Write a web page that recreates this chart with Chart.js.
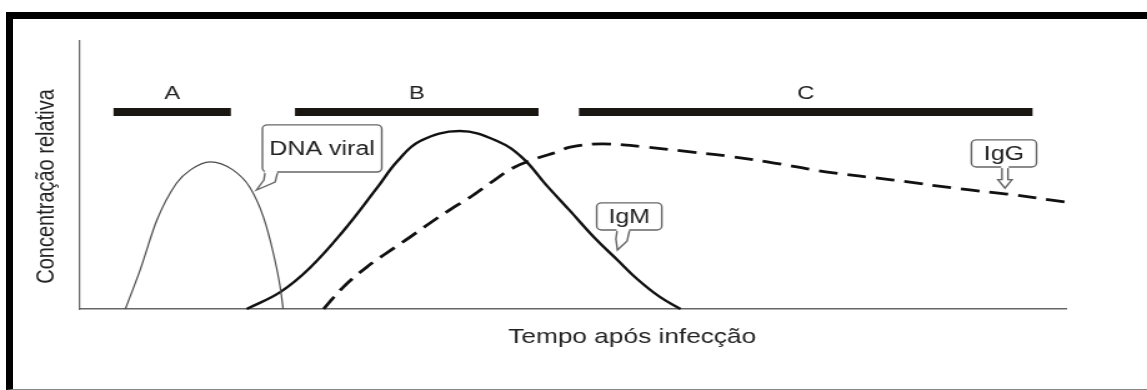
<!DOCTYPE html>
<html>
<head>
<meta charset="utf-8">
<script src="https://cdn.jsdelivr.net/npm/chart.js@4"></script>
<style>
  html, body { margin: 0; padding: 0; background: #fff; overflow: hidden; }
  #wrap { position: relative; width: 1147px; height: 390px; }
  /* the original figure is stretched sideways, so the canvas is too */
  #graph { position: absolute; left: 0; top: 0; transform: scaleX(1.2495); transform-origin: 0 0; }
  #frame { position: absolute; left: 6px; top: 12px; right: 0; bottom: 0;
           border-top: 7px solid #000; border-left: 7px solid #000; border-bottom: 1px solid #888;
           pointer-events: none; }
</style>
</head>
<body>
<div id="wrap">
  <canvas id="graph" width="918" height="390"></canvas>
  <div id="frame"></div>
</div>
<script>
// time after infection (0-100) and relative concentration (0-100)
const dnaTime = [4.6, 6.1, 7.8, 9.8, 11.2, 13.2, 15.5, 17.2, 18.6, 19.6, 20.3, 20.6];
const dnaConc = [0, 14.6, 33.2, 47.0, 51.9, 54.9, 51.9, 45.5, 34.3, 20.9, 8.2, 0];

const igmTime = [16.9, 20.3, 23.3, 26.7, 30.1, 32.2, 34.5, 38.5, 42.3, 44.9, 47.2, 49.7, 52.2, 54.5, 56.5, 58.8, 60.9];
const igmConc = [0, 6.3, 15.3, 29.1, 45.1, 55.2, 62.7, 66.4, 62.7, 56.3, 46.6, 36.6, 26.5, 18.3, 11.2, 4.5, 0];

const iggTime = [24.7, 26.7, 29.1, 31.1, 33.5, 35.5, 37.5, 39.6, 41.6, 43.9, 46.4, 48.4, 49.7, 53.0, 57.5, 61.9, 65.6, 69.7, 75.8, 82.5, 89.3, 94.0, 99.9];
const iggConc = [0, 8.2, 15.7, 20.9, 26.9, 32.1, 37.0, 41.8, 47.0, 52.6, 56.3, 58.6, 60.4, 61.6, 60.4, 58.6, 57.1, 54.9, 51.1, 48.1, 44.8, 42.9, 39.9];

// phases A, B, C (bars above the curves)
const phaseNames = ['A', 'B', 'C'];
const phaseStart = [3.4, 21.8, 50.6];
const phaseEnd = [15.3, 46.5, 96.6];
const phaseLevel = 73.5;
const phaseLabelLevel = 78.4;

// callout boxes: [x0, yTop, x1, yBottom] in data units, tail anchor and tip
const calloutText = ['DNA viral', 'IgM', 'IgG'];
const calloutBox = [[18.5, 68.7, 30.6, 51.1], [52.4, 39.6, 59.0, 29.5], [90.4, 63.1, 97.0, 53.0]];
const calloutTail = [18.9, 54.6, 93.8];
const calloutTip = [[17.9, 44.4], [54.5, 22.0], [93.8, 45.1]];

const xTitle = 'Tempo após infecção';
const yTitle = 'Concentração relativa';

const FONT = '"Liberation Sans", Arial, Helvetica, sans-serif';

function pts(xs, ys) {
  return xs.map((v, i) => ({ x: v, y: ys[i] }));
}

const datasets = [
  { label: 'DNA viral', data: pts(dnaTime, dnaConc), borderColor: '#4a4a4a', borderWidth: 1.2, cubicInterpolationMode: 'monotone' },
  { label: 'IgM', data: pts(igmTime, igmConc), borderColor: '#111', borderWidth: 2.4, tension: 0.4 },
  { label: 'IgG', data: pts(iggTime, iggConc), borderColor: '#111', borderWidth: 2.8, borderDash: [15, 8], tension: 0.4 }
].map(d => Object.assign(d, { pointRadius: 0, fill: false, clip: false }));

phaseNames.forEach((name, i) => {
  datasets.push({
    label: 'Fase ' + name,
    data: [{ x: phaseStart[i], y: phaseLevel }, { x: phaseEnd[i], y: phaseLevel }],
    borderColor: '#1a1612',
    borderWidth: 8,
    borderCapStyle: 'butt',
    pointRadius: 0,
    tension: 0,
    clip: false
  });
});

// draws phase letters, callouts and axis titles
const overlay = {
  id: 'overlay',
  afterDatasetsDraw(chart) {
    const { ctx, scales: { x, y }, chartArea } = chart;
    ctx.save();
    ctx.fillStyle = '#222';
    ctx.textAlign = 'center';

    ctx.font = '19px ' + FONT;
    ctx.textBaseline = 'alphabetic';
    phaseNames.forEach((name, i) => {
      ctx.fillText(name, x.getPixelForValue((phaseStart[i] + phaseEnd[i]) / 2), y.getPixelForValue(phaseLabelLevel));
    });

    // callouts
    calloutText.forEach((txt, i) => {
      const b = calloutBox[i];
      const x0 = x.getPixelForValue(b[0]), x1 = x.getPixelForValue(b[2]);
      const y0 = y.getPixelForValue(b[1]), y1 = y.getPixelForValue(b[3]);
      const tx = x.getPixelForValue(calloutTip[i][0]), ty = y.getPixelForValue(calloutTip[i][1]);
      const ax = x.getPixelForValue(calloutTail[i]);
      ctx.beginPath();
      ctx.roundRect(x0, y0, x1 - x0, y1 - y0, 4);
      ctx.fillStyle = '#fff';
      ctx.fill();
      ctx.strokeStyle = '#666';
      ctx.lineWidth = 1.4;
      ctx.stroke();

      ctx.beginPath();
      if (i === 2) {
        // straight down arrow
        const ym = y1 + (ty - y1) * 0.6;
        ctx.moveTo(ax - 2.4, y1);
        ctx.lineTo(ax - 2.4, ym);
        ctx.lineTo(ax - 5.6, ym);
        ctx.lineTo(tx, ty);
        ctx.lineTo(ax + 5.6, ym);
        ctx.lineTo(ax + 2.4, ym);
        ctx.lineTo(ax + 2.4, y1);
      } else {
        const ym = y1 + (ty - y1) * 0.45;
        ctx.moveTo(ax - 1, y1);
        ctx.lineTo(ax - 2, ym);
        ctx.lineTo(tx, ty);
        ctx.lineTo(ax + 7, ym + 2);
        ctx.lineTo(ax + 9, y1);
      }
      ctx.fillStyle = '#fff';
      ctx.fill();
      ctx.stroke();
      ctx.fillStyle = '#fff';
      ctx.fillRect(ax - 1.5 - (i === 2 ? 1.5 : 0), y1 - 1, (i === 2 ? 6 : 10), 2.2);

      ctx.fillStyle = '#222';
      ctx.font = '20px ' + FONT;
      ctx.textBaseline = 'middle';
      ctx.fillText(txt, (x0 + x1) / 2, (y0 + y1) / 2 + 1);
    });

    // axis titles
    ctx.fillStyle = '#222';
    ctx.font = '21px ' + FONT;
    ctx.textBaseline = 'alphabetic';
    ctx.fillText(xTitle, x.getPixelForValue(56), chartArea.bottom + 34);

    ctx.translate(37.6, 186.5);
    ctx.rotate(-Math.PI / 2);
    ctx.font = '20px ' + FONT;
    ctx.textBaseline = 'middle';
    ctx.fillText(yTitle, 0, 0);
    ctx.restore();
  }
};

const ctx = document.getElementById('graph');

const chart = new Chart(ctx, {
  type: 'line',
  data: { datasets: datasets },
  options: {
    responsive: false,
    animation: false,
    layout: { padding: { top: 41, right: 64.8, left: 0, bottom: 0 } },
    plugins: {
      legend: { display: false },
      tooltip: { enabled: false }
    },
    scales: {
      x: {
        type: 'linear',
        min: 0,
        max: 100,
        ticks: { display: false },
        grid: { display: false },
        border: { display: true, color: '#666', width: 1.4 },
        afterFit: (scale) => { scale.height = 81; }
      },
      y: {
        min: 0,
        max: 100,
        ticks: { display: false },
        grid: { display: false },
        border: { display: true, color: '#666', width: 1.2 },
        afterFit: (scale) => { scale.width = 64.03; }
      }
    }
  },
  plugins: [overlay]
});
</script>
</body>
</html>
